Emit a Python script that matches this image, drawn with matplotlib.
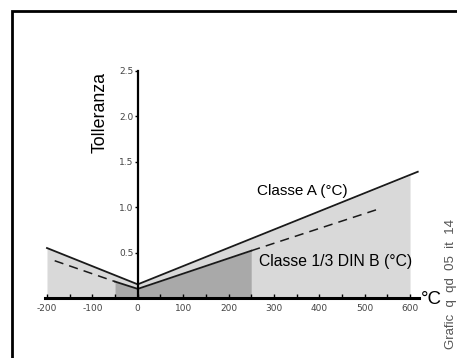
import matplotlib.pyplot as plt
import numpy as np
from matplotlib.patches import Rectangle

# temperature breakpoints (deg C) and tolerances
t_a = [-200, 0, 600]
tol_a = [0.55, 0.15, 1.35]
t_a_line = [-200, 0, 617]
tol_a_line = [0.55, 0.15, 1.39]

t_b = [-50, 0, 250]
tol_b = [0.18, 0.10, 0.52]
t_b_dash_left = [-183, -50]
tol_b_dash_left = [0.41, 0.18]
t_b_dash_right = [250, 525]
tol_b_dash_right = [0.52, 0.97]

xticks = [-200, -100, 0, 100, 200, 300, 400, 500, 600]
yticks = [0.5, 1.0, 1.5, 2.0, 2.5]
yticklabels = ['0.5', '1.0', '1.5', '2.0', '2.5']

fig = plt.figure(figsize=(4.57, 3.58), dpi=100)
# outer frame
fig.patches.append(Rectangle((12/457, -0.1), 1.2, 1 - 11/358 + 0.1,
                             transform=fig.transFigure, fill=False,
                             edgecolor='black', linewidth=2))

ax = fig.add_axes([37.9/457, 32.8/358, 390.3/457, 272.4/358])
ax.set_xlim(-220, 640)
ax.set_ylim(-0.3, 2.7)

light = '#d9d9d9'
dark = '#a9a9a9'
ax.fill_between(t_a, 0, tol_a, color=light, linewidth=0)
ax.fill_between(t_b, 0, tol_b, color=dark, linewidth=0)

ax.plot(t_a_line, tol_a_line, color='#1a1a1a', lw=1.3, clip_on=False)
ax.plot(t_b, tol_b, color='#1a1a1a', lw=1.3)
ax.plot(t_b_dash_left, tol_b_dash_left, color='#1a1a1a', lw=1.1,
        dashes=(6, 4))
ax.plot(t_b_dash_right, tol_b_dash_right, color='#1a1a1a', lw=1.1,
        dashes=(6, 4))

for s in ['top', 'right']:
    ax.spines[s].set_visible(False)
ax.spines['left'].set_position(('data', 0))
ax.spines['left'].set_bounds(0, 2.5)
ax.spines['left'].set_linewidth(1.6)
ax.spines['bottom'].set_position(('data', 0))
ax.spines['bottom'].set_bounds(-205, 620)
ax.spines['bottom'].set_linewidth(2.2)
ax.spines['left'].set_zorder(5)
ax.spines['bottom'].set_zorder(5)

ax.set_xticks(xticks)
ax.set_xticklabels([str(v) for v in xticks], fontsize=6.5, color='#444444')
ax.set_xticks([-150, -50, 50, 150, 250, 350, 450, 550], minor=True)
ax.tick_params(axis='x', which='both', direction='in', length=3, width=1,
               pad=4)
ax.set_yticks(yticks)
ax.set_yticklabels(yticklabels, fontsize=6.5, color='#444444')
ax.tick_params(axis='y', direction='out', length=2, width=1, pad=1)
ax.patch.set_visible(False)

ax.text(-83, 2.04, 'Tolleranza', rotation=90, fontsize=12.8,
        family='Liberation Sans', ha='center', va='center')
ax.text(262, 1.18, 'Classe A (°C)', fontsize=11, family='Liberation Sans',
        ha='left', va='center')
ax.text(268, 0.4, 'Classe 1/3 DIN B (°C)', fontsize=11.3,
        family='Liberation Sans', ha='left', va='center')
ax.text(624, -0.02, '°C', fontsize=13.5, family='Liberation Sans',
        ha='left', va='center', clip_on=False)

fig.text(451/457, 1 - 284/358, 'Grafic  q  qd  05  it  14', rotation=90,
         fontsize=9.5, color='#555555', family='Liberation Sans',
         ha='center', va='center')

fig.savefig('out.png', dpi=100)
